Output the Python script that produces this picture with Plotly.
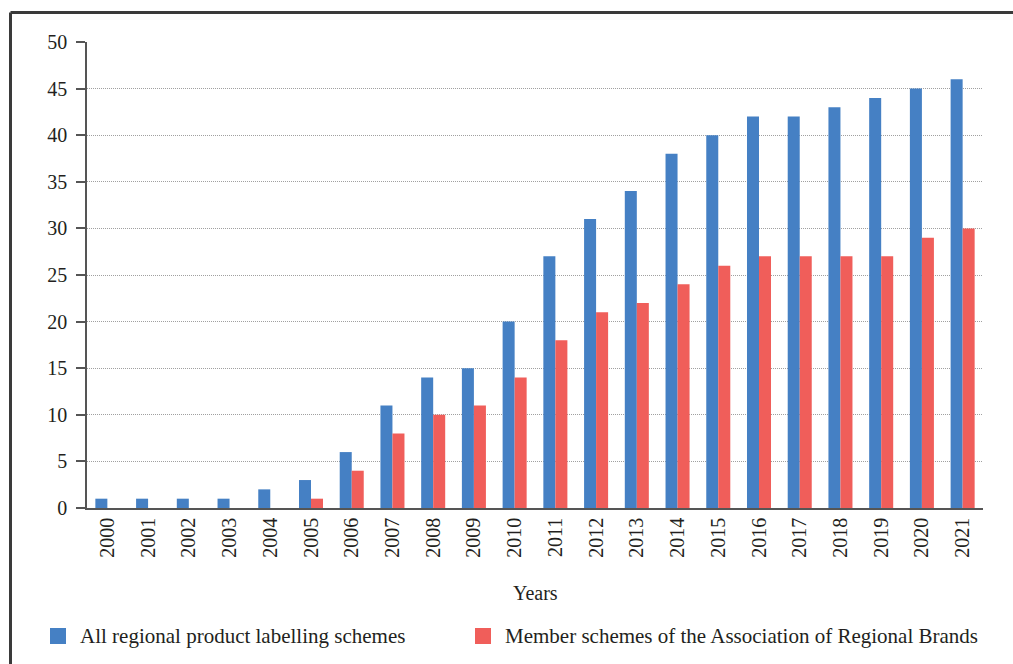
import plotly.graph_objects as go

years = [str(y) for y in range(2000, 2022)]
all_schemes = [1, 1, 1, 1, 2, 3, 6, 11, 14, 15, 20, 27, 31, 34, 38, 40, 42, 42, 43, 44, 45, 46]
member_schemes = [0, 0, 0, 0, 0, 1, 4, 8, 10, 11, 14, 18, 21, 22, 24, 26, 27, 27, 27, 27, 29, 30]
y_ticks = list(range(0, 55, 5))
series_names = ["All regional product labelling schemes",
                "Member schemes of the Association of Regional Brands"]
series_colors = ["#4580c4", "#f05e5a"]

W, H = 1013, 664
ML, MR, MT, MB = 87, 30, 42, 156
PW, PH = W - ML - MR, H - MT - MB

FONT = "Liberation Serif"
TXT = "#231f20"


def px_x(v):
    return (v - ML) / PW


def px_y(v):
    return (H - MB - v) / PH


fig = go.Figure()
for vals, name, col in zip([all_schemes, member_schemes], series_names, series_colors):
    fig.add_trace(go.Bar(x=years, y=vals, name=name, showlegend=False,
                         marker=dict(color=col, line=dict(width=0))))

# outer frame (top and left edges)
fig.add_shape(type="line", xref="paper", yref="paper",
              x0=px_x(10.5), x1=px_x(1020), y0=px_y(12.5), y1=px_y(12.5),
              line=dict(color="#3a3a3a", width=3))
fig.add_shape(type="line", xref="paper", yref="paper",
              x0=px_x(10.5), x1=px_x(10.5), y0=px_y(12.5), y1=px_y(670),
              line=dict(color="#3a3a3a", width=3))

# legend drawn as swatches + labels
legend_x = [50, 475]
for lx, name, col in zip(legend_x, series_names, series_colors):
    fig.add_shape(type="rect", xref="paper", yref="paper",
                  x0=px_x(lx), x1=px_x(lx + 16), y0=px_y(628), y1=px_y(644),
                  line=dict(width=0), fillcolor=col)
    fig.add_annotation(xref="paper", yref="paper", x=px_x(lx + 28), y=px_y(636),
                       xanchor="left", yanchor="middle", showarrow=False,
                       text=name, font=dict(size=21, color=TXT, family=FONT))

# axis title
fig.add_annotation(xref="paper", yref="paper", x=0.5, y=px_y(593),
                   xanchor="center", yanchor="middle", showarrow=False,
                   text="Years", font=dict(size=20, color=TXT, family=FONT))

fig.update_layout(
    width=W, height=H,
    margin=dict(l=ML, r=MR, t=MT, b=MB),
    paper_bgcolor="white", plot_bgcolor="white",
    barmode="group", bargap=0.41, bargroupgap=0,
    font=dict(family=FONT, size=19, color=TXT),
    showlegend=False,
    xaxis=dict(
        type="category", tickangle=-90, showgrid=False,
        showline=True, linecolor="#555555", linewidth=1.5,
        ticks="", tickfont=dict(size=20, color=TXT), ticklabelstandoff=0,
    ),
    yaxis=dict(
        range=[0, 50], tickvals=y_ticks, showgrid=True,
        gridcolor="#a0a0a0", griddash="1px,1px", gridwidth=1,
        showline=True, linecolor="#555555", linewidth=1.5,
        ticks="outside", ticklen=9, tickcolor="#555555", tickwidth=1.5,
        tickfont=dict(size=20, color=TXT), ticklabelstandoff=5, zeroline=False,
    ),
)

fig.write_html("out.html")
